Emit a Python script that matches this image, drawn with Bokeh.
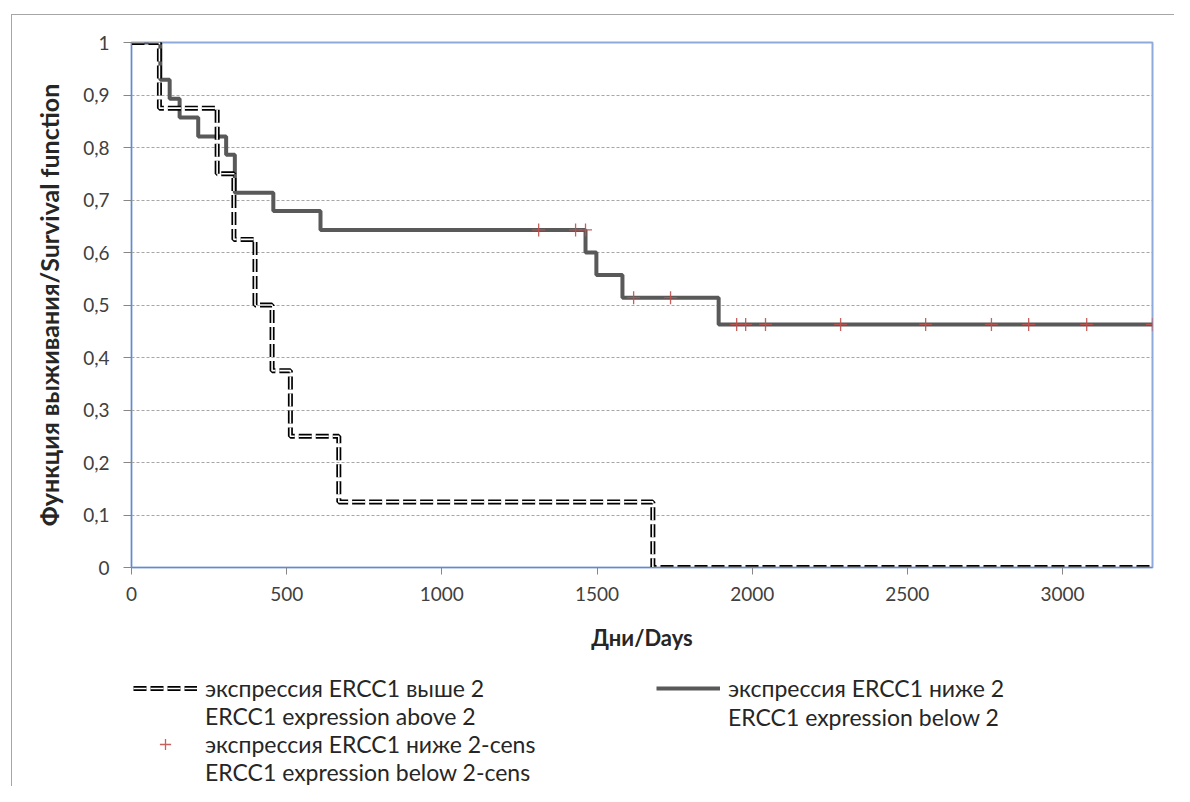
from bokeh.plotting import figure
from bokeh.layouts import column
from bokeh.models import FixedTicker, Legend, LegendItem, Range1d
from bokeh.embed import file_html
from bokeh.resources import INLINE

# ---- data ----
days_above = [0, 90, 276, 330, 398, 453, 512, 668, 1680, 3290]
surv_above = [1.0, 0.875, 0.75, 0.625, 0.5, 0.375, 0.25, 0.125, 0.0, 0.0]

days_below = [0, 93, 123, 155, 215, 305, 333, 457, 609, 1463, 1498, 1582, 1892, 3290]
surv_below = [1.0, 0.929, 0.893, 0.857, 0.821, 0.786, 0.714, 0.679, 0.643, 0.600, 0.557, 0.514, 0.463, 0.463]

cens_days = [1312, 1431, 1463, 1618, 1737, 1950, 1979, 2043, 2285, 2559, 2771, 2891, 3078, 3290]
cens_surv = [0.643, 0.643, 0.643, 0.514, 0.514, 0.463, 0.463, 0.463, 0.463, 0.463, 0.463, 0.463, 0.463, 0.463]

x_ticks = [0, 500, 1000, 1500, 2000, 2500, 3000]
y_ticks = [0, 0.1, 0.2, 0.3, 0.4, 0.5, 0.6, 0.7, 0.8, 0.9, 1.0]
y_tick_labels = ["0", "0,1", "0,2", "0,3", "0,4", "0,5", "0,6", "0,7", "0,8", "0,9", "1"]
grid_ticks = [0.1, 0.2, 0.3, 0.4, 0.5, 0.6, 0.7, 0.8, 0.9]

x_title = "Дни/Days"
y_title = "Функция выживания/Survival function"
label_above = ["экспрессия ERCC1 выше 2", "ERCC1 expression above 2"]
label_cens = ["экспрессия ERCC1 ниже 2-cens", "ERCC1 expression below 2-cens"]
label_below = ["экспрессия ERCC1 ниже 2", "ERCC1 expression below 2"]

FONT = "Lato"

# line styles shared by plot and legend
SOLID = dict(line_color="#595959", line_width=4)
DASH_K = dict(line_color="black", line_width=5, line_dash="13 4")
DASH_W = dict(line_color="white", line_width=1.6, line_dash="13 4")
CROSS = dict(marker="cross", size=13, line_color="#c0504d", line_width=1.3, line_alpha=0.9)

p = figure(width=1174, height=660, output_backend="svg", toolbar_location=None,
           x_range=Range1d(0, 3290), y_range=Range1d(0, 1),
           min_border_left=131, min_border_top=42, min_border_right=22, min_border_bottom=93)
p.background_fill_color = "white"
p.border_fill_color = None
p.outline_line_color = "#8eaadb"
p.outline_line_width = 2

# axes
p.xaxis.ticker = FixedTicker(ticks=x_ticks)
p.yaxis.ticker = FixedTicker(ticks=y_ticks)
p.yaxis.major_label_overrides = {t: l for t, l in zip(y_ticks, y_tick_labels)}
for ax in (p.xaxis[0], p.yaxis[0]):
    ax.axis_line_color = "#868686"
    ax.major_tick_line_color = "#868686"
    ax.minor_tick_line_color = None
    ax.major_tick_in = 0
    ax.major_label_text_font = FONT
    ax.major_label_text_font_size = "19px"
    ax.major_label_text_color = "#404040"
    ax.axis_label_text_font = FONT
    ax.axis_label_text_font_style = "bold"
    ax.axis_label_text_color = "#262626"
p.xaxis.axis_label_text_font_size = "22px"
p.yaxis.axis_label_text_font_size = "25px"
p.xaxis.major_tick_out = 7
p.yaxis.major_tick_out = 8
p.xaxis.major_label_standoff = 12
p.yaxis.major_label_standoff = 14
p.xaxis.axis_label = x_title
p.yaxis.axis_label = y_title
p.xaxis.axis_label_standoff = 20
p.yaxis.axis_label_standoff = 16

p.xgrid.visible = False
p.ygrid.ticker = FixedTicker(ticks=grid_ticks)
p.ygrid.grid_line_color = "#a6a6a6"
p.ygrid.grid_line_dash = "3 2"
p.ygrid.grid_line_width = 1

# curves
p.step(days_below, surv_below, mode="after", **SOLID)
p.step(days_above, surv_above, mode="after", **DASH_K)
p.step(days_above, surv_above, mode="after", **DASH_W)
p.scatter(cens_days, cens_surv, **CROSS)

# legend strip below the chart (proxy glyphs drawn outside its visible range)
lg = figure(width=1174, height=126, output_backend="svg", toolbar_location=None,
            x_range=Range1d(0, 1), y_range=Range1d(0, 1),
            x_axis_location=None, y_axis_location=None,
            min_border_left=0, min_border_right=0, min_border_top=0, min_border_bottom=0)
lg.outline_line_color = None
lg.grid.visible = False
lg.background_fill_color = None
lg.border_fill_color = None
px, py = [-5, -4], [-5, -5]
q_solid = lg.step(px, py, mode="after", **SOLID)
q_dk = lg.step(px, py, mode="after", **DASH_K)
q_dw = lg.step(px, py, mode="after", **DASH_W)
q_cross = lg.scatter(px[:1], py[:1], **CROSS)
q_none = lg.step(px, py, mode="after", line_alpha=0)

# one single-line legend per text line, so that each glyph sits on its first line
rows = [
    (label_above[0], [q_dk, q_dw], 2, 84),
    (label_above[1], [q_none], 2, 56),
    (label_cens[0], [q_cross], 2, 28),
    (label_cens[1], [q_none], 2, 0),
    (label_below[0], [q_solid], 525, 84),
    (label_below[1], [q_none], 525, 55),
]
for text, rends, vx, vy in rows:
    L = Legend(items=[LegendItem(label=text, renderers=rends)], location=(vx, vy))
    L.background_fill_alpha = 0
    L.border_line_alpha = 0
    L.padding = 0
    L.margin = 0
    L.spacing = 0
    L.glyph_width = 64
    L.glyph_height = 28
    L.label_height = 28
    L.label_standoff = 8
    L.label_text_font = FONT
    L.label_text_font_size = "23px"
    L.label_text_color = "#262626"
    lg.add_layout(L, "center")

layout = column(p, lg, spacing=0,
                styles={"box-shadow": "inset 11px 14px 0 0 white, inset 12px 15px 0 0 #a6a6a6"})
open("out.html", "w").write(file_html(layout, INLINE))
